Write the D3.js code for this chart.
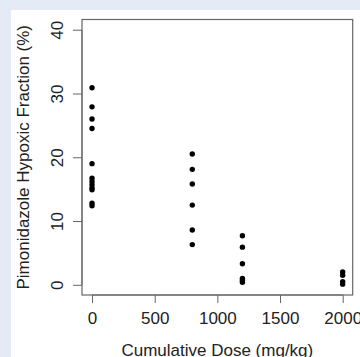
<!DOCTYPE html>
<html>
<head>
<meta charset="utf-8">
<script src="https://cdn.jsdelivr.net/npm/d3@7"></script>
<style>
html,body{margin:0;padding:0;background:#e4eaf6;}
svg{display:block;}
text{font-family:"Liberation Sans",Arial,sans-serif;fill:#222;}
</style>
</head>
<body>
<svg id="chart" width="360" height="357"></svg>
<script>
const doses = [0, 800, 1200, 2000];
const dose0 = [30.9, 27.9, 26.0, 24.5, 19.0, 16.7, 16.2, 15.7, 15.2, 14.9, 12.8, 12.4];
const dose800 = [20.5, 18.1, 15.8, 12.5, 8.6, 6.3];
const dose1200 = [7.7, 5.9, 3.3, 1.0, 0.7, 0.4];
const dose2000 = [2.0, 1.5, 0.5, 0.1];
const xTicks = [0, 500, 1000, 1500, 2000];
const yTicks = [0, 10, 20, 30, 40];
const xLabel = "Cumulative Dose (mg/kg)";
const yLabel = "Pimonidazole Hypoxic Fraction (%)";

const groups = [dose0, dose800, dose1200, dose2000];
const points = [];
groups.forEach((g, i) => g.forEach(v => points.push({x: doses[i], y: v})));

const svg = d3.select("#chart");
svg.append("rect").attr("x", 11).attr("y", 10).attr("width", 349).attr("height", 347).attr("fill", "#fff");

const L = 82, R = 352.7, T = 19.5, B = 295;
const x = d3.scaleLinear().domain([-80, 2080]).range([L, R]);
const y = d3.scaleLinear().domain([-1.6, 41.6]).range([B, T]);

const xAxis = svg.append("g").attr("transform", `translate(0,${B})`)
  .call(d3.axisBottom(x).tickValues(xTicks).tickSize(8).tickPadding(9).tickFormat(d3.format("d")));
xAxis.select(".domain").attr("d", `M${x(0)},0H${x(2000)}`).attr("stroke", "#666");
xAxis.selectAll(".tick line").attr("stroke", "#666");
xAxis.selectAll(".tick text").attr("font-size", "17px").attr("fill", "#222").attr("dy", "0.72em");

const yAxis = svg.append("g").attr("transform", `translate(${L},0)`)
  .call(d3.axisLeft(y).tickValues(yTicks).tickSize(9).tickFormat(d3.format("d")));
yAxis.select(".domain").attr("d", `M0,${y(0)}V${y(40)}`).attr("stroke", "#666");
yAxis.selectAll(".tick line").attr("stroke", "#666");
yAxis.selectAll(".tick text").remove();
yAxis.selectAll(".tick").append("text")
  .attr("transform", "translate(-19,0) rotate(-90)")
  .attr("text-anchor", "middle").attr("font-size", "17px").attr("fill", "#222")
  .text(d => d);

svg.append("rect").attr("x", L).attr("y", T).attr("width", R - L).attr("height", B - T)
  .attr("fill", "none").attr("stroke", "#666").attr("stroke-width", 1.2);

svg.append("g").selectAll("circle").data(points).join("circle")
  .attr("cx", d => x(d.x)).attr("cy", d => y(d.y)).attr("r", 2.7).attr("fill", "#000");

svg.append("text").attr("x", (L + R) / 2).attr("y", 356).attr("text-anchor", "middle")
  .attr("font-size", "17px").text(xLabel);
svg.append("text").attr("transform", `translate(29,${(T + B) / 2}) rotate(-90)`)
  .attr("text-anchor", "middle").attr("font-size", "17px").text(yLabel);
</script>
</body>
</html>
